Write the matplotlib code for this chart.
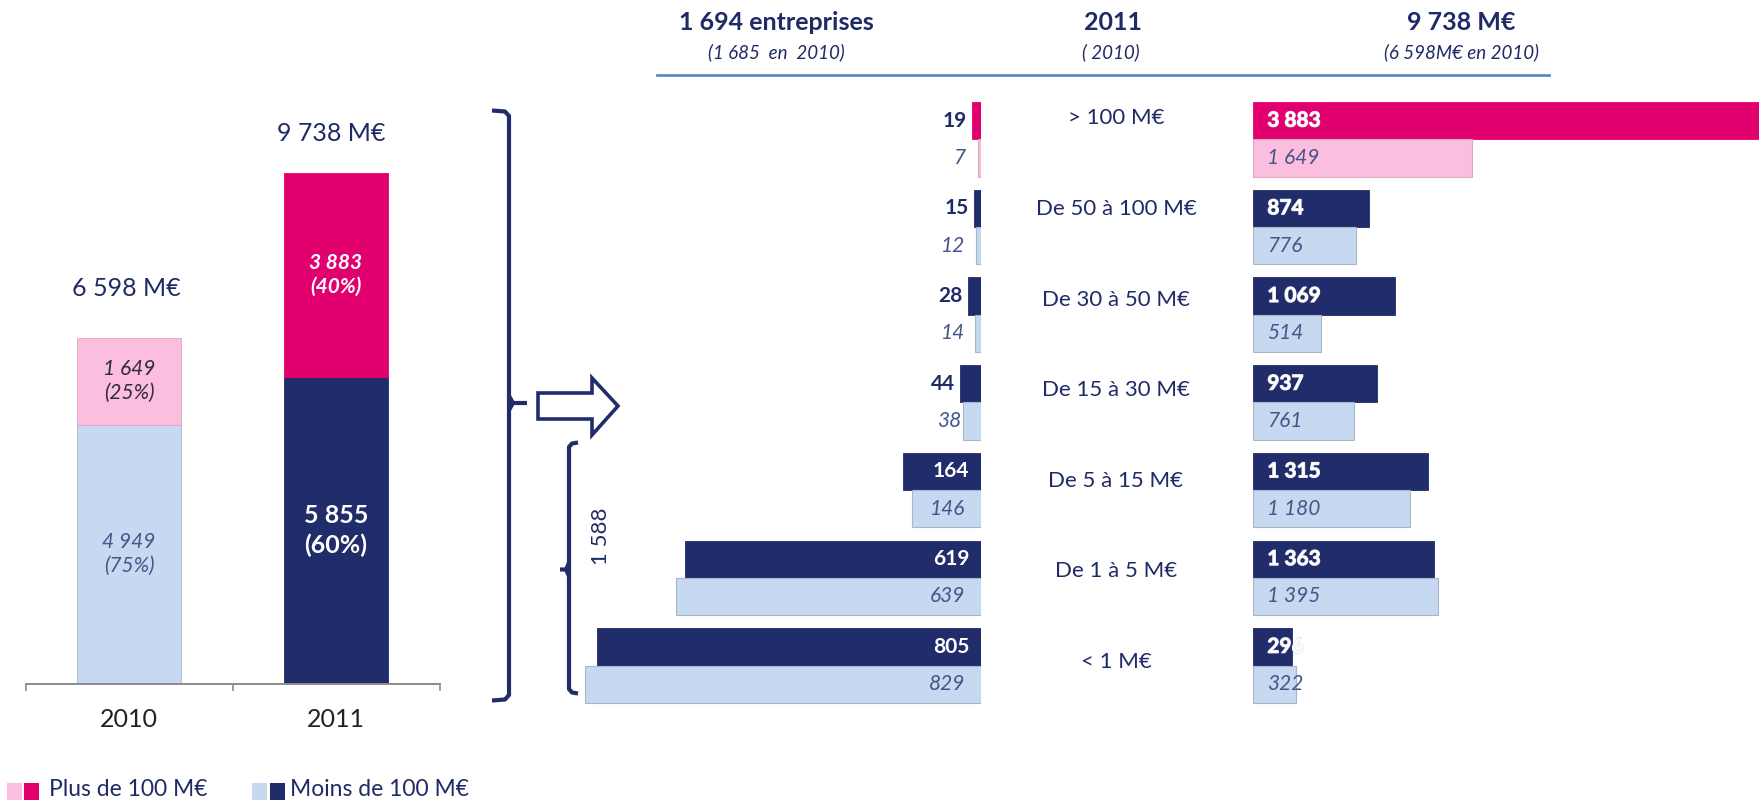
import matplotlib
matplotlib.use("Agg")
import matplotlib.pyplot as plt
import matplotlib.patheffects as pe
from matplotlib.patches import Polygon, Rectangle
from matplotlib.lines import Line2D

plt.rcParams['font.family'] = ['Lato', 'DejaVu Sans']

# ---- data -------------------------------------------------------------
years = ['2010', '2011']
plus_100 = [1649, 3883]      # M€, companies above 100 M€
moins_100 = [4949, 5855]     # M€, companies below 100 M€

categories = ['> 100 M€', 'De 50 à 100 M€', 'De 30 à 50 M€', 'De 15 à 30 M€',
              'De 5 à 15 M€', 'De 1 à 5 M€', '< 1 M€']
count_2011 = [19, 15, 28, 44, 164, 619, 805]
count_2010 = [7, 12, 14, 38, 146, 639, 829]
ca_2011 = [3883, 874, 1069, 937, 1315, 1363, 296]
ca_2010 = [1649, 776, 514, 761, 1180, 1395, 322]

# ---- style ------------------------------------------------------------
NAVY = '#212C6A'
MAGENTA = '#E2006E'
PINK = '#FBBEDE'
LIGHT = '#C6D9F0'
TEXT = '#1F2A66'
SOFT = '#45558A'
EDGE_L = '#A8B6CA'
EDGE_P = '#D9A9C2'

W, H = 1759, 801
fig = plt.figure(figsize=(W / 100, H / 100), dpi=100)
PT = 72 / 100  # points per pixel


def box(x0, y0, x1, y1):
    """Axes rectangle from pixel edges measured from the top-left corner."""
    return [x0 / W, 1 - y1 / H, (x1 - x0) / W, (y1 - y0) / H]


def fmt(v):
    return f"{v:,}".replace(',', ' ')


# ---- left: stacked totals per year -------------------------------------
axl = fig.add_axes(box(25.7, 100, 439.5, 684))
totals = [a + b for a, b in zip(plus_100, moins_100)]
axl.set_ylim(0, max(totals) * (684 - 100) / (684 - 173.4))
axl.set_xlim(-0.5, 1.5)
xs = list(range(len(years)))
axl.bar(xs, moins_100, width=0.5, color=[LIGHT, NAVY],
        edgecolor=[EDGE_L, NAVY], linewidth=0.6)
axl.bar(xs, plus_100, width=0.5, bottom=moins_100, color=[PINK, MAGENTA],
        edgecolor=[EDGE_P, MAGENTA], linewidth=0.6)
for s in ['top', 'left', 'right']:
    axl.spines[s].set_visible(False)
axl.spines['bottom'].set_color('#8C8C8C')
axl.spines['bottom'].set_linewidth(1.4)
axl.set_yticks([])
axl.set_xticks([])
axl.set_xticks([-0.5, 0.5, 1.5], minor=True)
axl.tick_params(axis='x', which='minor', length=5, width=1.2, color='#8C8C8C',
                labelbottom=False)
for x, yr in zip(xs, years):
    axl.annotate(yr, xy=(x, 0), xycoords=('data', 'axes fraction'),
                 xytext=(0, -35.5 * PT), textcoords='offset points',
                 ha='center', va='center', fontsize=18, color='#222222')

shares_p = [round(100 * p / t) for p, t in zip(plus_100, totals)]
shares_m = [round(100 * m / t) for m, t in zip(moins_100, totals)]
# 2010 labels
axl.text(0, moins_100[0] + plus_100[0] / 2, f"{fmt(plus_100[0])}\n({shares_p[0]}%)",
         ha='center', va='center', fontsize=15, style='italic', color='#2E2A44',
         linespacing=1.25)
axl.text(0, moins_100[0] / 2, f"{fmt(moins_100[0])}\n({shares_m[0]}%)",
         ha='center', va='center', fontsize=15, style='italic', color=SOFT,
         linespacing=1.25)
# 2011 labels
axl.text(1, moins_100[1] + plus_100[1] / 2, f"{fmt(plus_100[1])}\n({shares_p[1]}%)",
         ha='center', va='center', fontsize=15, style='italic', weight='bold',
         color='white', linespacing=1.25)
axl.text(1, moins_100[1] / 2, f"{fmt(moins_100[1])}\n({shares_m[1]}%)",
         ha='center', va='center', fontsize=18, weight='bold', color='white',
         linespacing=1.3)
axl.annotate(f"{fmt(totals[0])} M€", xy=(0, totals[0]), xytext=(-3 * PT, 50 * PT),
             textcoords='offset points', ha='center', va='center',
             fontsize=18, color=TEXT)
axl.annotate(f"{fmt(totals[1])} M€", xy=(1, totals[1]), xytext=(-5 * PT, 40 * PT),
             textcoords='offset points', ha='center', va='center',
             fontsize=18, color=TEXT)

# ---- right: counts and turnover per size band ---------------------------
PITCH = 87.7
ROW0 = 139.3
TOP, BOT = 90, 720
BH = 37.3 / PITCH
ylim = ((BOT - ROW0) / PITCH, -(ROW0 - TOP) / PITCH)

CNT_RIGHT = 981.3
CNT_SCALE = 0.478          # px per company
axc = fig.add_axes(box(560, TOP, CNT_RIGHT, BOT))
axc.set_xlim((CNT_RIGHT - 560) / CNT_SCALE, 0)
axc.set_ylim(*ylim)
axc.axis('off')

VAL_LEFT = 1252.8
VAL_SCALE = 0.1329         # px per M€
axv = fig.add_axes(box(VAL_LEFT, TOP, W, BOT))
axv.set_xlim(0, (W - VAL_LEFT) / VAL_SCALE)
axv.set_ylim(*ylim)
axv.axis('off')

rows = list(range(len(categories)))
y_new = [r - BH / 2 for r in rows]
y_old = [r + BH / 2 for r in rows]
dark_cols = [MAGENTA] + [NAVY] * (len(rows) - 1)
light_cols = [PINK] + [LIGHT] * (len(rows) - 1)
light_edges = [EDGE_P] + [EDGE_L] * (len(rows) - 1)

axc.barh(y_new, count_2011, height=BH, color=dark_cols, edgecolor=dark_cols,
         linewidth=0.6)
axc.barh(y_old, count_2010, height=BH, color=light_cols, edgecolor=light_edges,
         linewidth=0.8)
axv.barh(y_new, ca_2011, height=BH, color=dark_cols, edgecolor=dark_cols,
         linewidth=0.6)
axv.barh(y_old, ca_2010, height=BH, color=light_cols, edgecolor=light_edges,
         linewidth=0.8)

# count labels: inside the bar when it is wide enough, otherwise to its left
for v, y in zip(count_2011, y_new):
    w = v * CNT_SCALE
    if w > 40:
        axc.annotate(str(v), xy=(0, y), xytext=(-12 * PT, 0), textcoords='offset points',
                     ha='right', va='center', fontsize=15, weight='bold', color='white')
    else:
        axc.annotate(str(v), xy=(v, y), xytext=(-5 * PT, 0), textcoords='offset points',
                     ha='right', va='center', fontsize=15, weight='bold', color=TEXT)
for v, y in zip(count_2010, y_old):
    w = v * CNT_SCALE
    off = -16 if w > 40 else min(-16, -w - 2)
    axc.annotate(str(v), xy=(0, y), xytext=(off * PT, 0), textcoords='offset points',
                 ha='right', va='center', fontsize=15, style='italic', color=SOFT)

# turnover labels
for v, y in zip(ca_2011, y_new):
    axv.annotate(fmt(v), xy=(0, y), xytext=(14.5 * PT, 0), textcoords='offset points',
                 ha='left', va='center', fontsize=15, weight='bold', color='white',
                 path_effects=[pe.withStroke(linewidth=0.8, foreground='#DADDE6')])
for v, y in zip(ca_2010, y_old):
    axv.annotate(fmt(v), xy=(0, y), xytext=(14.5 * PT, 0), textcoords='offset points',
                 ha='left', va='center', fontsize=15, style='italic', color=SOFT)

# ---- overlay: headers, category names, brackets, arrow, legend ---------
ov = fig.add_axes([0, 0, 1, 1], zorder=5)
ov.set_xlim(0, W)
ov.set_ylim(H, 0)
ov.axis('off')
ov.patch.set_visible(False)

for i, cat in enumerate(categories):
    ov.text(1116, 118.3 + 90.6 * i, cat, ha='center', va='center',
            fontsize=16, color=TEXT)

ov.text(776, 23, f"{fmt(sum(count_2011))} entreprises", ha='center', va='center',
        fontsize=18, weight='bold', color=TEXT)
ov.text(776, 52, f"({fmt(sum(count_2010))}  en  2010)", ha='center', va='center',
        fontsize=13.5, style='italic', color=TEXT)
ov.text(1112.8, 23, "2011", ha='center', va='center', fontsize=18,
        weight='bold', color=TEXT)
ov.text(1110.5, 52, "( 2010)", ha='center', va='center', fontsize=13.5,
        style='italic', color=TEXT)
ov.text(1460.7, 23, f"{fmt(totals[1])} M€", ha='center', va='center', fontsize=18,
        weight='bold', color=TEXT)
ov.text(1462, 52, f"({fmt(totals[0])}M€ en 2010)", ha='center', va='center',
        fontsize=13.5, style='italic', color=TEXT)
ov.add_line(Line2D([657, 1548.7], [75, 75], color='#5B8BC6', lw=2))

# large bracket around the whole right panel
br = dict(color=NAVY, lw=3, solid_capstyle='butt', solid_joinstyle='round')
ov.plot([492, 505, 509, 509, 505, 492],
        [110.5, 111.5, 116, 695, 699.5, 700.5], **br)
ov.plot([509, 513, 527], [396, 403, 403], **br)
ov.plot([509, 513], [410, 403], **br)

# small bracket around the three smallest bands
ov.plot([578, 572, 569, 569, 572, 578],
        [442.5, 443.5, 447, 689, 692.5, 693.5], **br)
ov.plot([569, 566, 560], [563, 569.5, 569.5], **br)
ov.plot([569, 566], [576, 569.5], **br)
ov.text(601, 536.7, fmt(sum(count_2011[4:])), rotation=90, ha='center',
        va='center', fontsize=16, color=TEXT)

# hollow arrow
arrow = Polygon([(538, 393), (592, 393), (592, 378), (618, 406), (592, 435),
                 (592, 419), (538, 419)], closed=True, facecolor='white',
                edgecolor=NAVY, lw=2.6, joinstyle='miter')
ov.add_patch(arrow)

# legend
for x0, c in [(7.5, PINK), (24, MAGENTA), (252, LIGHT), (270, NAVY)]:
    ov.add_patch(Rectangle((x0, 783), 14.6, 17, facecolor=c, edgecolor='none'))
ov.text(49, 790, "Plus de 100 M€", ha='left', va='center', fontsize=16.5,
        color=TEXT)
ov.text(290, 790, "Moins de 100 M€", ha='left', va='center', fontsize=16.5,
        color=TEXT)

fig.savefig('out.png', dpi=100)
